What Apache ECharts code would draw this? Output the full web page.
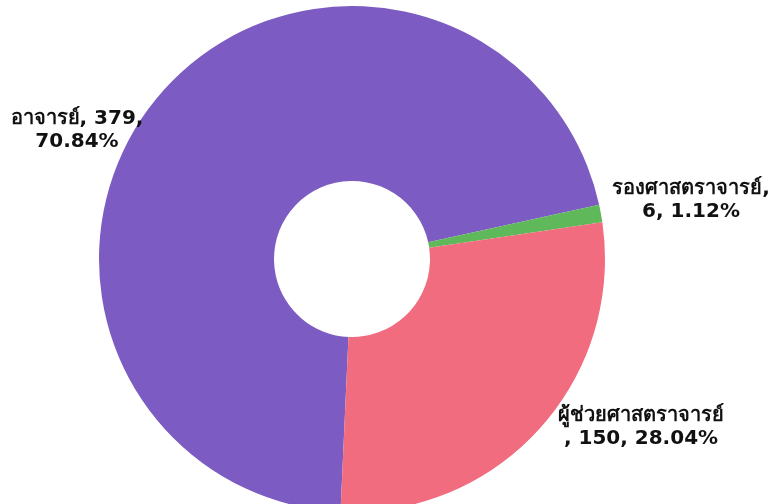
<!DOCTYPE html>
<html>
<head>
<meta charset="utf-8">
<script src="https://cdn.jsdelivr.net/npm/echarts@6/dist/echarts.min.js"></script>
<style>
html,body{margin:0;padding:0;background:#fff;}
#c{width:774px;height:504px;}
</style>
</head>
<body>
<div id="c"></div>
<script>
const categories = ['อาจารย์', 'รองศาสตราจารย์', 'ผู้ช่วยศาสตราจารย์'];
const values = [379, 6, 150];
const percentLabels = ['70.84%', '1.12%', '28.04%'];
const colors = ['#7C5CC2', '#5FB85A', '#F06C7E'];

const labelText = [
  (i) => categories[i] + ', ' + values[i] + ',\n' + percentLabels[i],
  (i) => categories[i] + ',\n' + values[i] + ', ' + percentLabels[i],
  (i) => categories[i] + '\n, ' + values[i] + ', ' + percentLabels[i]
];
const labelPos = [[77, 130], [691, 200], [641, 427]];

const chart = echarts.init(document.getElementById('c'), null, {renderer: 'canvas'});
chart.setOption({
  animation: false,
  backgroundColor: '#ffffff',
  series: [{
    type: 'pie',
    center: [352, 259],
    radius: [78, 253],
    startAngle: 267.4,
    clockwise: true,
    avoidLabelOverlap: false,
    data: categories.map((c, i) => ({
      name: c,
      value: values[i],
      itemStyle: {color: colors[i]}
    })),
    label: {
      show: true,
      position: 'outside',
      formatter: (p) => labelText[p.dataIndex](p.dataIndex),
      fontFamily: 'Tahoma, "DejaVu Sans", sans-serif',
      fontWeight: 'bold',
      fontSize: 20,
      lineHeight: 23,
      color: '#111111',
      align: 'center'
    },
    labelLine: {show: false},
    labelLayout: (p) => ({
      x: labelPos[p.dataIndex][0],
      y: labelPos[p.dataIndex][1],
      align: 'center',
      verticalAlign: 'middle'
    })
  }]
});
</script>
</body>
</html>
